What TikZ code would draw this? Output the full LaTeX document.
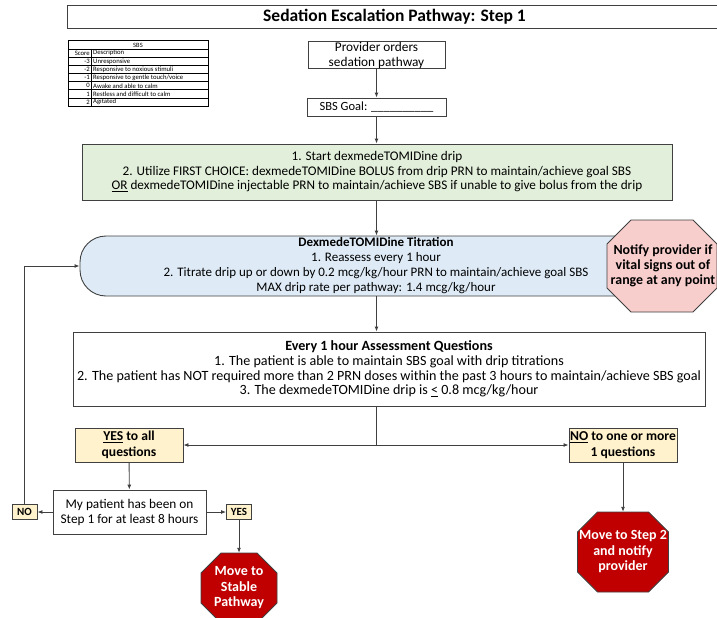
\documentclass[tikz,border=0pt]{standalone}
\usepackage{fontspec}
\setmainfont{Carlito}
\usetikzlibrary{arrows.meta}
\definecolor{edgegray}{RGB}{64,64,64}
\definecolor{stepgreen}{RGB}{226,239,218}
\definecolor{stepblue}{RGB}{222,235,247}
\definecolor{answeryellow}{RGB}{255,242,204}
\definecolor{alertpink}{RGB}{248,206,204}
\definecolor{stopred}{RGB}{192,0,0}
\begin{document}
\begin{tikzpicture}[x=1pt, y=-1pt, >={Latex[length=5pt,width=4pt]},
    font=\fontsize{13.3}{15}\selectfont,
    every node/.style={align=center, inner sep=0pt},
    plainbox/.style={draw=edgegray, line width=0.9pt, fill=white},
    answer/.style={plainbox, fill=answeryellow, font=\fontsize{13.6}{15.5}\selectfont\bfseries},
    flag/.style={plainbox, fill=answeryellow, font=\fontsize{11}{13}\selectfont\bfseries},
    stoptext/.style={text=white, font=\fontsize{14}{15.5}\selectfont\bfseries},
    flow/.style={->, draw=edgegray, line width=0.9pt}]
    \useasboundingbox (0,0) rectangle (717,618);

    \node[plainbox, minimum width=655pt, minimum height=23pt, font=\fontsize{17.5}{19}\selectfont\bfseries]
        (title) at (394.5,16.5) {Sedation Escalation Pathway: Step 1};

    % SBS table
    \draw[line width=1pt] (68,41) rectangle (208,106);
    \node[font=\fontsize{6.5}{7}\selectfont] (sbshead) at (138,45) {SBS};
    \draw[line width=0.6pt] (91,49) -- (91,106);
    \foreach \row/\score/\desc in {0/Score/Description, 1/-3/Unresponsive, 2/-2/Responsive to noxious stimuli,
        3/-1/{Responsive to gentle touch/voice}, 4/0/Awake and able to calm, 5/1/Restless and difficult to calm, 6/2/Agitated}{
        \draw[line width=0.6pt] (68,49+8.15*\row) -- (208,49+8.15*\row);
        \node[anchor=east, font=\fontsize{6.7}{7}\selectfont] (score\row) at (90,53.1+8.15*\row) {\score};
        \node[anchor=west, font=\fontsize{6.7}{7}\selectfont] (desc\row) at (93,53.1+8.15*\row) {\desc};}

    \node[plainbox, minimum width=137pt, minimum height=27pt] (provider) at (376.5,55) {Provider orders\\sedation pathway};
    \node[plainbox, minimum width=139pt, minimum height=18pt, font=\fontsize{12.5}{15}\selectfont]
        (goal) at (376.5,107) {SBS Goal: \_\_\_\_\_\_\_\_\_\_};
    \node[plainbox, fill=stepgreen, minimum width=590pt, minimum height=56pt, font=\fontsize{13.2}{14.5}\selectfont]
        (start) at (377,172) {1. Start dexmedeTOMIDine drip\\
        2. Utilize FIRST CHOICE: dexmedeTOMIDine BOLUS from drip PRN to maintain/achieve goal SBS\\
        \underline{OR} dexmedeTOMIDine injectable PRN to maintain/achieve SBS if unable to give bolus from the drip};
    \node[plainbox, fill=stepblue, rounded corners=26pt, minimum width=592pt, minimum height=60pt, font=\fontsize{13}{15}\selectfont]
        (titration) at (376,266) {\textbf{DexmedeTOMIDine Titration}\\1. Reassess every 1 hour\\
        2. Titrate drip up or down by 0.2 mcg/kg/hour PRN to maintain/achieve goal SBS\\
        MAX drip rate per pathway: 1.4 mcg/kg/hour};

    % octagons
    \foreach \cx/\cy/\w/\h/\c/\col in {662/266/110/92/24/alertpink, 239/588/76/70/20/stopred, 623/552/91/80/20/stopred}{
        \draw[edgegray, line width=0.9pt, fill=\col, shift={(\cx,\cy)}]
            (-\w/2+\c,-\h/2) -- (\w/2-\c,-\h/2) -- (\w/2,-\h/2+\c) -- (\w/2,\h/2-\c)
            -- (\w/2-\c,\h/2) -- (-\w/2+\c,\h/2) -- (-\w/2,\h/2-\c) -- (-\w/2,-\h/2+\c) -- cycle;}
    \node[minimum width=110pt, minimum height=92pt, font=\fontsize{13.9}{15}\selectfont\bfseries]
        (notify) at (663,266) {Notify provider if\\vital signs out of\\range at any point};

    \node[plainbox, minimum width=632pt, minimum height=74pt, font=\fontsize{14.1}{14.6}\selectfont] (assess) at (389,369)
        {\textbf{Every 1 hour Assessment Questions}\\
        1. The patient is able to maintain SBS goal with drip titrations\\
        2. The patient has NOT required more than 2 PRN doses within the past 3 hours to maintain/achieve SBS goal\\
        3. The dexmedeTOMIDine drip is \underline{<} 0.8 mcg/kg/hour};
    \coordinate (split) at (376.5,445);
    \node[answer, minimum width=108pt, minimum height=34pt] (yesall) at (129,445) {\underline{YES} to all\\questions};
    \node[answer, minimum width=108pt, minimum height=34pt] (noany) at (623,445) {\underline{NO} to one or more\\1 questions};
    \node[plainbox, minimum width=153pt, minimum height=44pt] (hours) at (129.5,512) {My patient has been on\\Step 1 for at least 8 hours};
    \node[flag, minimum width=25pt, minimum height=15pt] (noflag) at (24.5,512) {NO};
    \node[flag, minimum width=25pt, minimum height=15pt] (yesflag) at (239,512) {YES};
    \node[stoptext, minimum width=76pt, minimum height=70pt] (stable) at (239,588) {Move to\\Stable\\Pathway};
    \node[stoptext, minimum width=91pt, minimum height=80pt] (escalate) at (623,552) {Move to Step 2\\and notify\\provider};

    \draw[flow] (provider) -- (goal);
    \draw[flow] (goal) -- (goal |- start.north);
    \draw[flow] (start.south -| goal) -- (titration.north -| goal);
    \draw[flow] (titration.south -| goal) -- (assess.north -| goal);
    \draw[flow, -] (assess.south -| goal) -- (split);
    \draw[flow] (split) -- (yesall);
    \draw[flow] (split) -- (noany);
    \draw[flow] (yesall) -- (hours);
    \draw[flow] (hours) -- (noflag);
    \draw[flow] (hours) -- (yesflag);
    \draw[flow] (noflag.north) |- (titration.west);
    \draw[flow] (yesflag) -- (stable);
    \draw[flow] (noany) -- (escalate);
\end{tikzpicture}
\end{document}
